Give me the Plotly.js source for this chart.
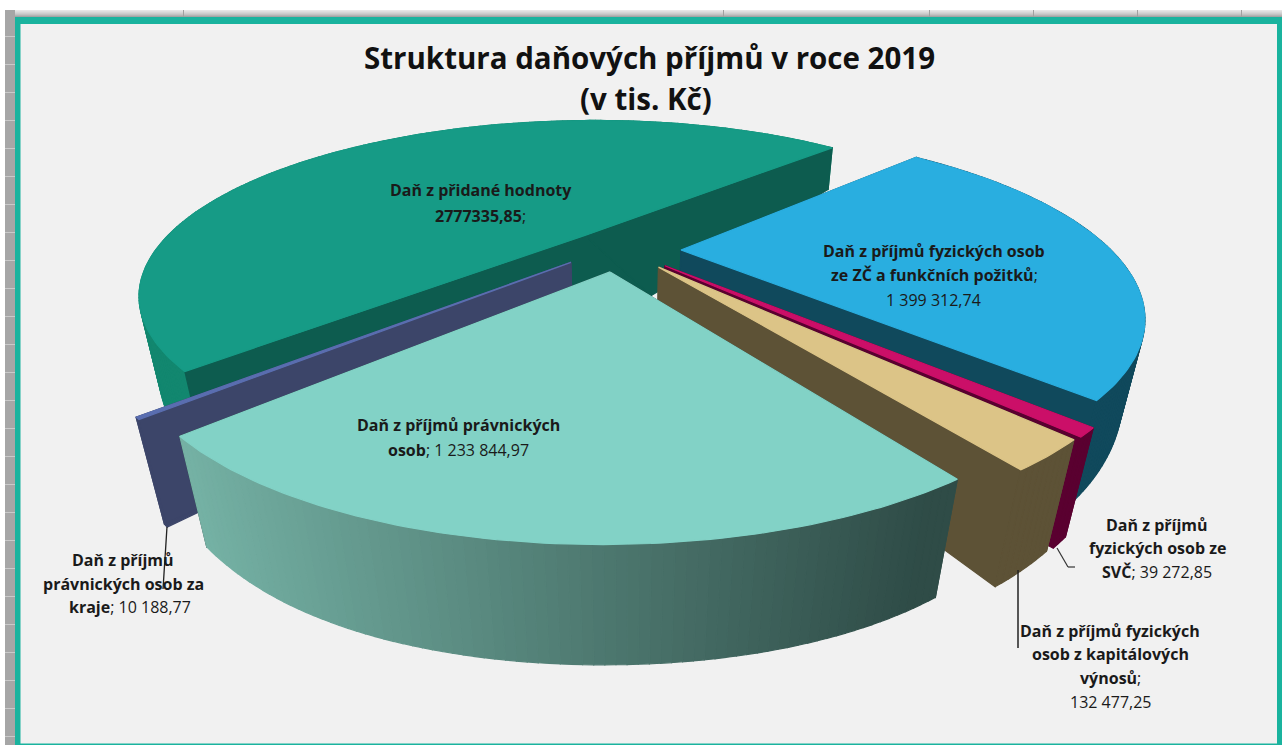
<!DOCTYPE html>
<html><head><meta charset="utf-8">
<script src="https://cdn.plot.ly/plotly-3.0.1.min.js"></script>
<style>html,body{margin:0;padding:0;background:#fff;overflow:hidden}#c{width:1282px;height:745px}</style>
</head><body><div id="c"></div>
<script>
// ---------- data ----------
const categories = ["Daň z přidané hodnoty","Daň z příjmů fyzických osob ze ZČ a funkčních požitků","Daň z příjmů fyzických osob ze SVČ","Daň z příjmů fyzických osob z kapitálových výnosů","Daň z příjmů právnických osob","Daň z příjmů právnických osob za kraje"];
const values = [2777335.85,1399312.74,39272.85,132477.25,1233844.97,10188.77];
const titleLines = ["Struktura daňových příjmů v roce 2019","(v tis. Kč)"];
// ---------- style ----------
const topColors  = ["#169b86","#29aee0","#cb0f68","#dcc487","#82d2c6","#5a6eb0"];
const edgeColors = ["#0d5c4f","#10495c","#5a0030","#5d5236","#33514c","#3c4569"];
const outerColors= ["#12876f","#10495c","#5a0030","#5d5236",null,"#3c4569"];
const explode = [.13,.13,.13,.13,.13,.15];
const nudgeX  = [-.005,0,0,-.005,-.02,-.015];
const nudgeY  = [0,0,0,0,0,.03];
const hubShift = [[65,-5],[0,0],[0,0],[0,0],[0,0],[0,0]];
const drawOrder = [0,1,5,2,3,4];
const START=45, CX=625, CY=250, A=430, B=162, P=.3355, VX=625, VY=2264;
// ---------- projection ----------
const total = values.reduce((a,b)=>a+b,0);
const rad = d=>d*Math.PI/180;
function proj(X,Y){const w=1+P*Y;return [CX+A*X/w,CY-B*Y/w];}
function drop(p){let t=.02+.000142*(p[1]-150);const e=Math.max(0,p[1]-450);t-=6.8e-7*e*e;return [p[0]+t*(VX-p[0]),p[1]+t*(VY-p[1])];}
function sliceAngles(i){
  let before=0;for(let k=1;k<i;k++)before+=values[k]/total*360;
  if(i===0){return [START+values[0]/total*360,START];}
  return [START-before,START-before-values[i]/total*360];
}
const traces=[];
function poly(pts,color){
  traces.push({type:'scatter',mode:'lines',x:pts.map(p=>p[0]),y:pts.map(p=>p[1]),fill:'toself',fillcolor:color,
    line:{color:color,width:1.2},hoverinfo:'skip',showlegend:false});
}
function mix(a,b,t){return 'rgb('+a.map((v,k)=>Math.round(v+(b[k]-v)*t)).join(',')+')';}
drawOrder.forEach(i=>{
  const [a1,a2]=sliceAngles(i);
  const mid=rad((a1+a2)/2), ox=explode[i]*Math.cos(mid)+nudgeX[i], oy=explode[i]*Math.sin(mid)+nudgeY[i];
  const pt=d=>proj(ox+Math.cos(rad(d)),oy+Math.sin(rad(d)));
  const apex=proj(ox,oy), ab=drop(apex), apexB=[ab[0]+hubShift[i][0],ab[1]+hubShift[i][1]];
  const arc=[];const n=Math.max(2,Math.ceil(Math.abs(a1-a2)));
  for(let k=0;k<=n;k++)arc.push(a1+(a2-a1)*k/n);
  const rim=()=>{for(let k=0;k<n;k++){
    const p=pt(arc[k]),q=pt(arc[k+1]);
    let c=outerColors[i];
    if(!c){c=mix([117,178,165],[47,76,71],Math.min(1,Math.max(0,(p[0]-180)/750)));}
    poly([p,q,drop(q),drop(p),p],c);
  }};
  const cuts=()=>{[a1,a2].forEach(d=>{const q=pt(d);poly([apex,q,drop(q),apexB,apex],edgeColors[i]);});};
  if(i===0){rim();cuts();}else{cuts();rim();}
  poly([apex].concat(arc.map(pt)).concat([apex]),topColors[i]);
});
// ---------- text ----------
const dark="#1a1a1a", FONT="'Open Sans', 'Noto Sans', sans-serif";
const ann=[];
function txt(x,y,t,size,col){ann.push({x:x,y:y,xref:'x',yref:'y',text:t,showarrow:false,xanchor:'center',yanchor:'middle',
  font:{family:FONT,size:size||16,color:col||dark}});}
txt(649,57,'<b>'+titleLines[0]+'</b>',29.5,'#111');
txt(646,98,'<b>'+titleLines[1]+'</b>',29.5,'#111');
txt(481,190,'<b>Daň z přidané hodnoty</b>');
txt(480,216,'<b>2777335,85</b>;');
txt(934,251,'<b>Daň z příjmů fyzických osob</b>');
txt(934,275,'<b>ze ZČ a funkčních požitků</b>;');
txt(933,300,'1 399 312,74');
txt(458,425,'<b>Daň z příjmů právnických</b>');
txt(458,450,'<b>osob</b>; 1 233 844,97');
txt(123,560,'<b>Daň z příjmů</b>');
txt(123,584,'<b>právnických osob za</b>');
txt(130,607,'<b>kraje</b>; 10 188,77');
txt(1157,525,'<b>Daň z příjmů</b>');
txt(1157,548,'<b>fyzických osob ze</b>');
txt(1157,572,'<b>SVČ</b>; 39 272,85');
txt(1110,631,'<b>Daň z příjmů fyzických</b>');
txt(1110,654,'<b>osob z kapitálových</b>');
txt(1110,678,'<b>výnosů</b>;');
txt(1110,702,'132 477,25');
// ---------- frame ----------
const shapes=[];
function rect(x0,y0,x1,y1,c){shapes.push({type:'rect',x0,y0,x1,y1,xref:'x',yref:'y',layer:'below',fillcolor:c,line:{width:0}});}
function seg(pts,c,w){for(let i=0;i<pts.length-1;i++)shapes.push({type:'line',x0:pts[i][0],y0:pts[i][1],x1:pts[i+1][0],y1:pts[i+1][1],xref:'x',yref:'y',layer:'above',line:{color:c,width:w}});}
['#e6e6e6','#dedede','#d6d6d6','#cdcdcd','#c2c2c2','#b4b4b4','#a4a4a4'].forEach((c,i)=>rect(5,10+i,1282,11+i,c));
rect(5,10,15,745,'#a6a6a6');
for(let y=36;y<745;y+=28)rect(5,y,15,y+1,'#c9c9c9');
[183,723,929,1033,1137,1241].forEach(x=>rect(x,10,x+1,17,'#a0a0a0'));
rect(15,17,1282,745,'#1ab39e');
rect(20.5,24,1277,743.5,'#f1f1f1');
seg([[167,527],[163,589]],'#222',1.3);
seg([[1018,570],[1018,648]],'#222',1.5);
seg([[1057,548],[1068,567],[1075,567]],'#333',1.2);
Plotly.newPlot('c',traces,{
  width:1282,height:745,margin:{l:0,r:0,t:0,b:0},paper_bgcolor:'#ffffff',plot_bgcolor:'rgba(0,0,0,0)',
  showlegend:false,hovermode:false,
  xaxis:{range:[0,1282],visible:false,fixedrange:true},
  yaxis:{range:[745,0],visible:false,fixedrange:true},
  annotations:ann,shapes:shapes
},{displayModeBar:false,staticPlot:true});
</script></body></html>
